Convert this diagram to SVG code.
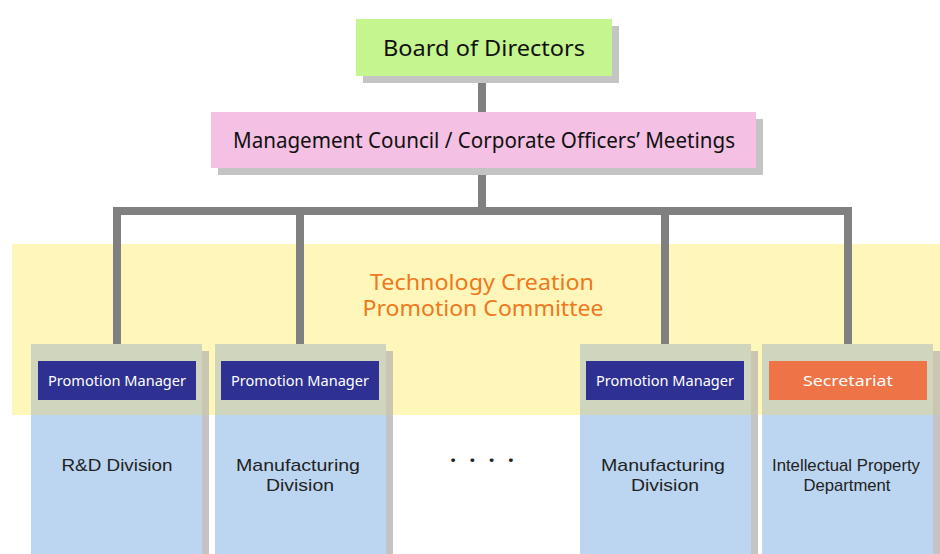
<svg xmlns="http://www.w3.org/2000/svg" width="940" height="554" viewBox="0 0 940 554">
<style>
text{font-family:"Noto Sans","Open Sans","DejaVu Sans",sans-serif;text-anchor:middle}
.shd{fill:#c4c4c4}
.shdb{fill:#c9c7b2}
.col{fill:#bcd6f1}
.colt{fill:#d0d5be}
.pm{fill:#2e3192}
.sec{fill:#ee7448}
.wt{fill:#ffffff;font-size:15px}
.dt{fill:#222222;font-size:17px;font-family:"Liberation Sans","Noto Sans",sans-serif}
.hd{fill:#111111;font-size:22px}
.cm{fill:#f07820;font-size:21px}
.conn{fill:none;stroke:#808080;stroke-width:8;stroke-linejoin:miter}
</style>
<rect x="0" y="0" width="940" height="554" fill="#ffffff"/>
<rect id="committee-band" x="12" y="244" width="928" height="171" fill="#fef7b9"/>
<g id="committee-label">
<text class="cm" x="482" y="290" textLength="224" lengthAdjust="spacingAndGlyphs">Technology Creation</text>
<text class="cm" x="483" y="316" textLength="241" lengthAdjust="spacingAndGlyphs">Promotion Committee</text>
</g>
<g id="connectors">
<path class="conn" d="M482,76 V112"/>
<path class="conn" d="M482,168 V211"/>
<path class="conn" d="M117,345 V211 H848 V345"/>
<path class="conn" d="M300,211 V345"/>
<path class="conn" d="M665,211 V345"/>
</g>
<g id="board">
<rect class="shd" x="363" y="26" width="256" height="57"/>
<rect x="356" y="19" width="256" height="57" fill="#c5f58f"/>
<text class="hd" x="484" y="56" textLength="202" lengthAdjust="spacingAndGlyphs">Board of Directors</text>
</g>
<g id="management">
<rect class="shd" x="218" y="119" width="545" height="56"/>
<rect x="211" y="112" width="545" height="56" fill="#f4c0e3"/>
<text class="hd" x="484" y="148" textLength="502" lengthAdjust="spacingAndGlyphs">Management Council / Corporate Officers’ Meetings</text>
</g>
<g id="col-rd">
<rect class="shd" x="202" y="415" width="7" height="139"/>
<rect class="shdb" x="202" y="351" width="7" height="64"/>
<rect class="col" x="31" y="344" width="171" height="210"/>
<rect class="colt" x="31" y="344" width="171" height="71"/>
<rect class="pm" x="38" y="361" width="158" height="39"/>
<text class="wt" x="117" y="386" textLength="138" lengthAdjust="spacingAndGlyphs">Promotion Manager</text>
<text class="dt" x="117" y="471" textLength="111" lengthAdjust="spacingAndGlyphs">R&amp;D Division</text>
</g>
<g id="col-mfg1">
<rect class="shd" x="386" y="415" width="7" height="139"/>
<rect class="shdb" x="386" y="351" width="7" height="64"/>
<rect class="col" x="215" y="344" width="171" height="210"/>
<rect class="colt" x="215" y="344" width="171" height="71"/>
<rect class="pm" x="221" y="361" width="158" height="39"/>
<text class="wt" x="300" y="386" textLength="138" lengthAdjust="spacingAndGlyphs">Promotion Manager</text>
<text class="dt" x="298" y="471" textLength="124" lengthAdjust="spacingAndGlyphs">Manufacturing</text>
<text class="dt" x="300" y="491" textLength="68" lengthAdjust="spacingAndGlyphs">Division</text>
</g>
<g id="ellipsis">
<text x="482" y="468" style="fill:#222222;font-size:22px;font-weight:bold" textLength="64" lengthAdjust="spacing">· · · ·</text>
</g>
<g id="col-mfg2">
<rect class="shd" x="751" y="415" width="7" height="139"/>
<rect class="shdb" x="751" y="351" width="7" height="64"/>
<rect class="col" x="580" y="344" width="171" height="210"/>
<rect class="colt" x="580" y="344" width="171" height="71"/>
<rect class="pm" x="586" y="361" width="158" height="39"/>
<text class="wt" x="665" y="386" textLength="138" lengthAdjust="spacingAndGlyphs">Promotion Manager</text>
<text class="dt" x="663" y="471" textLength="124" lengthAdjust="spacingAndGlyphs">Manufacturing</text>
<text class="dt" x="665" y="491" textLength="68" lengthAdjust="spacingAndGlyphs">Division</text>
</g>
<g id="col-ip">
<rect class="shd" x="933" y="415" width="7" height="139"/>
<rect class="shdb" x="933" y="351" width="7" height="64"/>
<rect class="col" x="762" y="344" width="171" height="210"/>
<rect class="colt" x="762" y="344" width="171" height="71"/>
<rect class="sec" x="769" y="361" width="158" height="39"/>
<text class="wt" x="848" y="386" textLength="90" lengthAdjust="spacingAndGlyphs">Secretariat</text>
<text class="dt" x="846" y="471" textLength="148" lengthAdjust="spacingAndGlyphs">Intellectual Property</text>
<text class="dt" x="847" y="491" textLength="87" lengthAdjust="spacingAndGlyphs">Department</text>
</g>
</svg>
